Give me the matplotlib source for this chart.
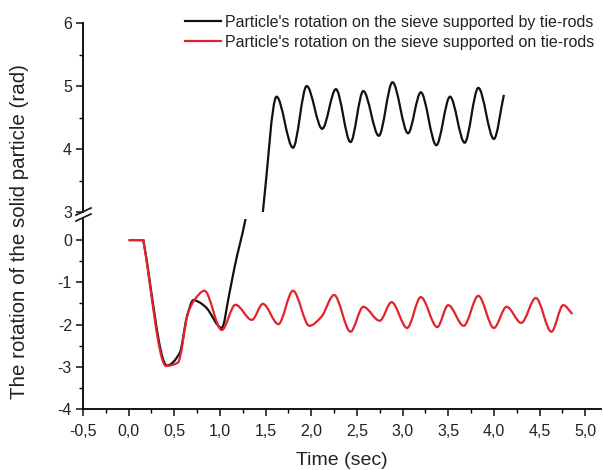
import matplotlib
matplotlib.use("Agg")
import matplotlib.pyplot as plt
from matplotlib.lines import Line2D
from matplotlib.path import Path
from matplotlib.patches import PathPatch
from matplotlib.ticker import FixedLocator, FuncFormatter

plt.rcParams['font.family'] = ['Liberation Sans', 'DejaVu Sans']

# Data
t_black = [0, 0.16, 0.42, 0.56, 0.64, 0.71, 0.78, 0.85, 1.02, 1.10, 1.16, 1.28,
           1.47, 1.62, 1.80, 1.95, 2.12, 2.27, 2.43, 2.57, 2.74, 2.89, 3.06, 3.20,
           3.37, 3.52, 3.68, 3.83, 4.00, 4.11]
v_black = [0, 0, -2.97, -2.67, -1.80, -1.42, -1.48, -1.60, -2.08, -1.30, -0.64, 0.50,
           3.00, 4.83, 4.02, 5.00, 4.32, 4.95, 4.11, 4.92, 4.21, 5.06, 4.25, 4.90,
           4.06, 4.83, 4.10, 4.97, 4.16, 4.86]

t_red = [0, 0.16, 0.41, 0.54, 0.65, 0.72, 0.83, 1.02, 1.17, 1.35, 1.47, 1.64, 1.80,
         1.98, 2.11, 2.25, 2.43, 2.57, 2.75, 2.88, 3.05, 3.20, 3.38, 3.50, 3.67,
         3.83, 4.00, 4.14, 4.30, 4.46, 4.63, 4.76, 4.86]
v_red = [0, 0, -2.98, -2.90, -1.73, -1.42, -1.20, -2.13, -1.53, -1.89, -1.51, -1.99, -1.20,
         -2.03, -1.82, -1.30, -2.17, -1.58, -1.91, -1.47, -2.08, -1.35, -2.06, -1.54, -2.03,
         -1.32, -2.08, -1.58, -1.96, -1.37, -2.17, -1.54, -1.75]

label_black = "Particle's rotation on the sieve supported by tie-rods"
label_red = "Particle's rotation on the sieve supported on tie-rods"

x_ticks = [-0.5, 0.0, 0.5, 1.0, 1.5, 2.0, 2.5, 3.0, 3.5, 4.0, 4.5, 5.0]
y_top_ticks = [3, 4, 5, 6]
y_bot_ticks = [-4, -3, -2, -1, 0]


def smooth_path(xs, ys):
    """Monotone cubic (Fritsch-Carlson) Bezier path through the points: drawing style only."""
    n = len(xs)
    sec = [(ys[i + 1] - ys[i]) / (xs[i + 1] - xs[i]) for i in range(n - 1)]
    m_out = [0.0] * n
    m_in = [0.0] * n
    m_out[0] = sec[0]
    m_in[-1] = sec[-1]
    for i in range(1, n - 1):
        a, b = sec[i - 1], sec[i]
        if a == 0 or b == 0:
            # sharp corner at the end of a plateau
            m_in[i], m_out[i] = a, b
            continue
        if a * b < 0:
            mi = 0.0
        else:
            h0 = xs[i] - xs[i - 1]
            h1 = xs[i + 1] - xs[i]
            w1, w2 = 2 * h1 + h0, h1 + 2 * h0
            mi = (w1 + w2) / (w1 / a + w2 / b)
        m_in[i] = m_out[i] = mi
    verts = [(xs[0], ys[0])]
    codes = [Path.MOVETO]
    for i in range(n - 1):
        dx = xs[i + 1] - xs[i]
        if ys[i] <= 0.5 and ys[i + 1] >= 3.0:
            c1, c2 = (xs[i], ys[i]), (xs[i + 1], ys[i + 1])
        else:
            c1 = (xs[i] + dx / 3, ys[i] + m_out[i] * dx / 3)
            c2 = (xs[i + 1] - dx / 3, ys[i + 1] - m_in[i + 1] * dx / 3)
        verts += [c1, c2, (xs[i + 1], ys[i + 1])]
        codes += [Path.CURVE4] * 3
    return Path(verts, codes)


W, H = 603, 470
fig = plt.figure(figsize=(W / 100, H / 100), dpi=100)

left = 83 / W
width = (601 - 83) / W
ax_bot = fig.add_axes([left, 1 - 409 / H, width, (409 - 219) / H])
ax_top = fig.add_axes([left, 1 - 212 / H, width, (212 - 23) / H], sharex=ax_bot)

black = '#111111'
red = '#e2232b'
lw = 1.6
tc = '#222222'

for ax in (ax_top, ax_bot):
    for xs, ys, c in ((t_black, v_black, black), (t_red, v_red, red)):
        ax.add_patch(PathPatch(smooth_path(xs, ys), facecolor='none', edgecolor=c,
                               lw=lw, joinstyle='miter', capstyle='butt'))
    ax.spines['top'].set_visible(False)
    ax.spines['right'].set_visible(False)
    ax.spines['left'].set_linewidth(1.3)
    ax.spines['bottom'].set_linewidth(1.3)
    ax.tick_params(axis='both', which='major', direction='out', length=5, width=1.2,
                   labelsize=11.5, colors=tc, pad=3)
    ax.tick_params(axis='both', which='minor', direction='out', length=3, width=1.0)

ax_bot.tick_params(axis='x', which='major', pad=6)

ax_bot.set_xlim(-0.5, -0.5 + (601 - 83) / 91.3)
ax_bot.set_ylim(-4, 0.5)
ax_top.set_ylim(3, 6)

ax_top.spines['bottom'].set_visible(False)
ax_top.tick_params(axis='x', which='both', bottom=False, labelbottom=False)

ax_bot.xaxis.set_major_locator(FixedLocator(x_ticks))
ax_bot.xaxis.set_minor_locator(FixedLocator([x + 0.25 for x in x_ticks]))
ax_bot.xaxis.set_major_formatter(FuncFormatter(lambda v, p: f"{v:.1f}".replace('.', ',')))

ax_bot.yaxis.set_major_locator(FixedLocator(y_bot_ticks))
ax_bot.yaxis.set_minor_locator(FixedLocator([y + 0.5 for y in y_bot_ticks[:-1]]))
ax_top.yaxis.set_major_locator(FixedLocator(y_top_ticks))
ax_top.yaxis.set_minor_locator(FixedLocator([y + 0.5 for y in y_top_ticks[:-1]]))
fmt_int = FuncFormatter(lambda v, p: f"{int(round(v))}")
ax_bot.yaxis.set_major_formatter(fmt_int)
ax_top.yaxis.set_major_formatter(fmt_int)

ax_bot.set_xlabel("Time (sec)", fontsize=14, color=tc, labelpad=9)
fig.text(20 / W, 1 - 232 / H, "The rotation of the solid particle (rad)", rotation=90,
         ha='center', va='center', fontsize=14.8, color=tc)

# axis-break marks
for yb in (209, 215):
    fig.add_artist(Line2D([76 / W, 91 / W], [1 - (yb + 6) / H, 1 - (yb - 1) / H],
                          color=tc, lw=1.3, transform=fig.transFigure))

handles = [Line2D([], [], color=black, lw=lw), Line2D([], [], color=red, lw=lw)]
fig.legend(handles, [label_black, label_red], loc='upper left',
           bbox_to_anchor=(185 / W, 1 - 15 / H), frameon=False, fontsize=11.5,
           handlelength=2.25, handletextpad=0.25, labelspacing=0.3, borderaxespad=0,
           borderpad=0, labelcolor=tc)

fig.savefig("out.png", dpi=100)
